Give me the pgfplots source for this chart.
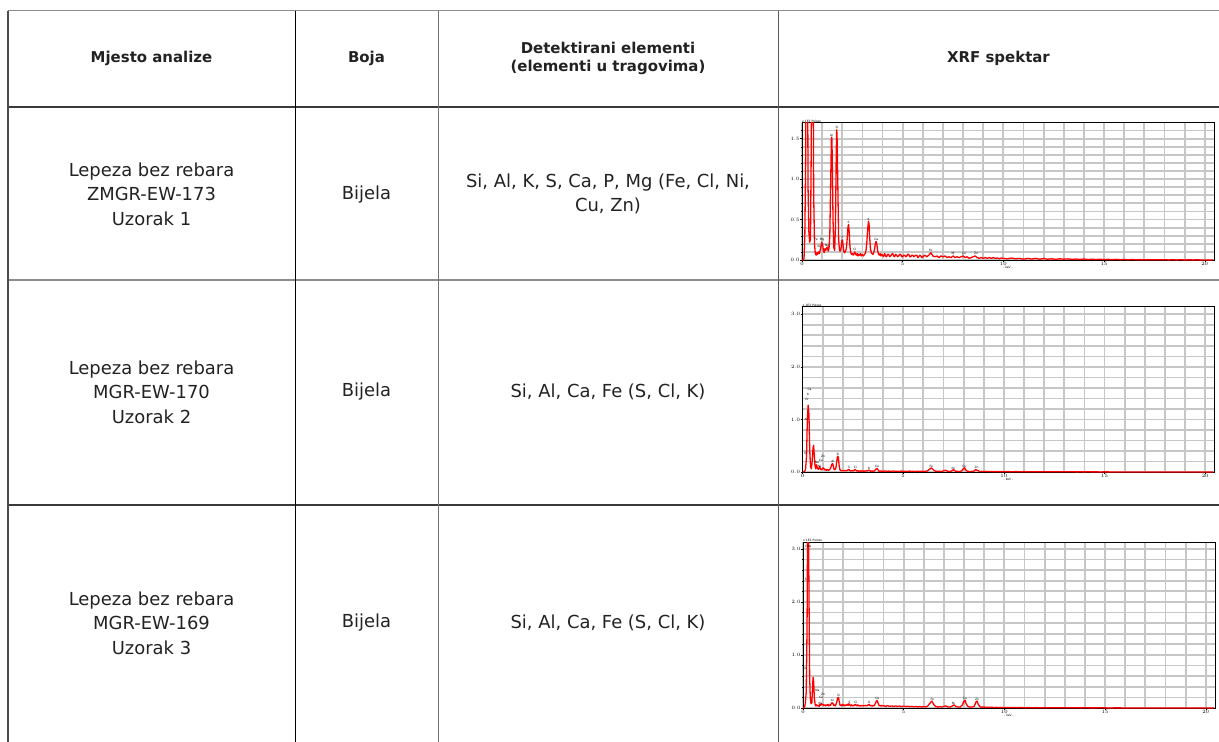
\documentclass[border=0pt]{standalone}
\usepackage{fontspec}
\setmainfont{DejaVu Sans}
\usepackage{pgfplots}
\usepackage{pgfplotstable}
\pgfplotsset{compat=1.18}
\definecolor{gridc}{HTML}{C6C6C6}
\definecolor{linegray}{HTML}{8C8C8C}
\definecolor{linedark}{HTML}{3A3A3A}
\definecolor{txt}{HTML}{222222}
\newcommand{\tinyf}{\fontsize{3}{3.5}\selectfont}
\tikzset{lbl/.style={font=\tinyf, inner sep=0bp, anchor=south}}
\pgfplotsset{
 xrf/.style={
  scale only axis, width=412bp,
  xmin=0, xmax=20.46, ymin=0,
  xtick={0,5,10,15,20},
  minor xtick={1,2,3,4,6,7,8,9,11,12,13,14,16,17,18,19},
  grid=both,
  major grid style={draw=gridc, line width=1.8bp},
  minor grid style={draw=gridc, line width=1.8bp},
  axis line style={black, line width=0.9bp},
  tick pos=left, tick align=outside,
  major tick length=1.6bp, minor tick length=1bp,
  tick style={black, line width=0.4bp},
  ticklabel style={font=\tinyf, inner sep=0.6bp},
  y tick label style={/pgf/number format/.cd, fixed, fixed zerofill, precision=1},
  xlabel={- keV -}, xlabel style={font=\tinyf, inner sep=0bp},
  clip mode=individual,
 },
 spec/.style={color=red, line width=1.3bp, mark=none, line join=round},
}
\pgfplotstableread{
x y
0.00 0.0
0.05 0.0
0.10 0.02
0.14 0.3
0.18 1.2
0.20 2.5
0.24 3.0
0.28 2.2
0.30 0.9
0.34 0.35
0.38 0.22
0.42 0.25
0.46 1.4
0.48 2.6
0.52 3.0
0.56 2.0
0.58 0.8
0.62 0.2
0.66 0.08
0.70 0.06
0.74 0.09
0.78 0.07
0.82 0.10
0.86 0.08
0.90 0.12
0.94 0.16
0.98 0.22
1.02 0.20
1.06 0.12
1.10 0.09
1.14 0.14
1.18 0.12
1.22 0.15
1.26 0.16
1.30 0.11
1.34 0.14
1.38 0.30
1.42 0.90
1.46 1.50
1.48 1.52
1.50 1.30
1.54 0.50
1.58 0.15
1.62 0.12
1.66 0.40
1.70 1.30
1.72 1.61
1.74 1.55
1.78 0.90
1.82 0.25
1.86 0.12
1.90 0.11
1.94 0.15
1.98 0.24
2.01 0.25
2.04 0.18
2.08 0.10
2.12 0.09
2.16 0.11
2.20 0.14
2.24 0.25
2.28 0.40
2.31 0.44
2.34 0.36
2.38 0.17
2.42 0.09
2.46 0.07
2.50 0.08
2.54 0.06
2.58 0.08
2.62 0.10
2.66 0.07
2.70 0.06
2.74 0.08
2.78 0.05
2.82 0.07
2.86 0.06
2.90 0.08
2.94 0.05
2.98 0.07
3.02 0.06
3.06 0.05
3.10 0.07
3.14 0.08
3.18 0.12
3.22 0.22
3.26 0.38
3.30 0.48
3.33 0.44
3.36 0.28
3.40 0.14
3.44 0.09
3.48 0.08
3.52 0.07
3.56 0.09
3.60 0.13
3.64 0.20
3.68 0.23
3.72 0.19
3.76 0.11
3.80 0.07
3.84 0.06
3.88 0.08
3.92 0.05
3.96 0.07
4.00 0.06
4.05 0.04
4.1 0.08
4.15 0.05
4.2 0.04
4.25 0.07
4.3 0.07
4.35 0.04
4.4 0.05
4.45 0.07
4.5 0.08
4.55 0.05
4.6 0.04
4.65 0.07
4.7 0.06
4.75 0.04
4.8 0.05
4.85 0.07
4.9 0.07
4.95 0.04
5.0 0.04
5.05 0.06
5.1 0.06
5.15 0.04
5.2 0.05
5.25 0.07
5.3 0.07
5.35 0.04
5.4 0.04
5.45 0.06
5.5 0.06
5.55 0.04
5.6 0.05
5.65 0.06
5.7 0.06
5.75 0.03
5.8 0.04
5.85 0.06
5.9 0.05
5.95 0.03
6.0 0.04
6.1 0.06
6.2 0.04
6.3 0.06
6.4 0.09
6.5 0.05
6.6 0.04
6.7 0.05
6.8 0.03
6.9 0.05
7.0 0.04
7.1 0.05
7.2 0.03
7.3 0.04
7.4 0.03
7.5 0.05
7.6 0.03
7.7 0.04
7.8 0.03
7.9 0.04
8.0 0.05
8.1 0.03
8.2 0.04
8.3 0.02
8.4 0.03
8.5 0.04
8.6 0.05
8.7 0.03
8.8 0.02
8.9 0.03
9.0 0.02
9.1 0.03
9.2 0.02
9.3 0.03
9.4 0.02
9.5 0.03
9.6 0.02
9.7 0.025
9.8 0.015
9.9 0.025
10.0 0.02
10.2 0.015
10.4 0.025
10.6 0.015
10.8 0.02
11.0 0.01
11.2 0.02
11.4 0.012
11.6 0.02
11.8 0.01
12.0 0.018
12.2 0.01
12.4 0.015
12.6 0.008
12.8 0.015
13.0 0.01
13.2 0.014
13.4 0.008
13.6 0.012
13.8 0.007
14.0 0.012
14.2 0.006
14.4 0.01
14.6 0.006
14.8 0.01
15.0 0.005
15.2 0.009
15.4 0.004
15.6 0.008
15.8 0.004
16.0 0.007
16.2 0.003
16.4 0.006
16.6 0.003
16.8 0.005
17.0 0.002
17.2 0.005
17.4 0.002
17.6 0.004
17.8 0.002
18.0 0.004
18.2 0.001
18.4 0.003
18.6 0.001
18.8 0.003
19.0 0.001
19.2 0.002
19.4 0.001
19.6 0.002
19.8 0.001
20.0 0.001
20.4 0.0
}\specA
\pgfplotstableread{
x y
0.00 0.0
0.10 0.01
0.15 0.05
0.20 0.30
0.24 1.00
0.28 1.27
0.32 1.10
0.36 0.40
0.40 0.10
0.44 0.06
0.48 0.20
0.52 0.45
0.55 0.51
0.58 0.35
0.62 0.12
0.66 0.06
0.70 0.14
0.74 0.08
0.78 0.05
0.82 0.07
0.86 0.10
0.90 0.05
0.94 0.04
0.98 0.06
1.02 0.08
1.06 0.07
1.10 0.04
1.14 0.05
1.18 0.03
1.22 0.05
1.26 0.04
1.30 0.03
1.34 0.05
1.38 0.06
1.42 0.10
1.46 0.15
1.50 0.16
1.54 0.09
1.58 0.04
1.62 0.05
1.66 0.08
1.70 0.20
1.74 0.30
1.78 0.28
1.82 0.12
1.86 0.04
1.90 0.03
1.94 0.02
1.98 0.03
2.02 0.02
2.06 0.03
2.10 0.02
2.14 0.03
2.18 0.02
2.22 0.03
2.26 0.04
2.30 0.05
2.34 0.03
2.38 0.02
2.42 0.025
2.46 0.02
2.50 0.03
2.54 0.02
2.58 0.04
2.62 0.05
2.66 0.03
2.70 0.02
2.74 0.025
2.78 0.015
2.82 0.02
2.86 0.015
2.90 0.025
2.94 0.015
2.98 0.02
3.02 0.015
3.06 0.02
3.10 0.015
3.14 0.02
3.18 0.025
3.22 0.02
3.26 0.03
3.30 0.035
3.34 0.025
3.38 0.015
3.42 0.02
3.46 0.015
3.50 0.02
3.54 0.015
3.58 0.025
3.62 0.04
3.66 0.06
3.70 0.07
3.74 0.05
3.78 0.02
3.82 0.015
3.86 0.02
3.90 0.015
3.94 0.02
3.98 0.012
4.1 0.02
4.2 0.012
4.3 0.018
4.4 0.01
4.5 0.02
4.6 0.012
4.7 0.016
4.8 0.01
4.9 0.018
5.0 0.012
5.1 0.016
5.2 0.01
5.3 0.018
5.4 0.012
5.5 0.015
5.6 0.01
5.7 0.016
5.8 0.012
5.9 0.015
6.0 0.01
6.1 0.015
6.2 0.02
6.3 0.05
6.4 0.08
6.5 0.04
6.6 0.015
6.7 0.012
6.8 0.015
6.9 0.01
7.0 0.02
7.1 0.035
7.2 0.015
7.3 0.01
7.4 0.02
7.5 0.045
7.6 0.015
7.7 0.012
7.8 0.01
7.9 0.02
8.0 0.07
8.05 0.08
8.1 0.04
8.2 0.012
8.3 0.01
8.4 0.012
8.5 0.015
8.6 0.045
8.7 0.03
8.8 0.01
8.9 0.012
9.0 0.008
9.1 0.012
9.2 0.008
9.3 0.01
9.4 0.007
9.5 0.01
9.6 0.006
9.7 0.01
9.8 0.006
9.9 0.009
10.0 0.006
10.2 0.009
10.4 0.005
10.6 0.008
10.8 0.005
11.0 0.008
11.2 0.004
11.4 0.007
11.6 0.004
11.8 0.006
12.0 0.004
12.2 0.006
12.4 0.003
12.6 0.006
12.8 0.003
13.0 0.005
13.2 0.003
13.4 0.005
13.6 0.002
13.8 0.004
14.0 0.002
14.2 0.004
14.4 0.002
14.6 0.003
14.8 0.001
15.0 0.003
15.4 0.001
15.8 0.002
16.2 0.0
16.6 0.001
17.0 0.0
20.4 0.0
}\specB
\pgfplotstableread{
x y
0.00 0.0
0.08 0.02
0.12 0.10
0.16 0.30
0.20 1.50
0.23 3.50
0.27 3.50
0.30 2.00
0.33 0.60
0.36 0.20
0.40 0.08
0.44 0.10
0.47 0.35
0.50 0.58
0.53 0.50
0.56 0.20
0.60 0.07
0.64 0.04
0.68 0.06
0.72 0.04
0.76 0.05
0.80 0.03
0.84 0.07
0.88 0.05
0.92 0.08
0.96 0.06
1.00 0.07
1.04 0.05
1.08 0.06
1.12 0.04
1.16 0.06
1.20 0.05
1.24 0.07
1.28 0.04
1.32 0.06
1.36 0.05
1.40 0.08
1.44 0.10
1.48 0.09
1.52 0.05
1.56 0.06
1.60 0.04
1.64 0.07
1.68 0.12
1.72 0.19
1.76 0.20
1.80 0.12
1.84 0.05
1.88 0.06
1.92 0.04
1.96 0.07
2.00 0.05
2.04 0.06
2.08 0.04
2.12 0.06
2.16 0.05
2.20 0.07
2.24 0.05
2.28 0.08
2.32 0.06
2.36 0.04
2.40 0.06
2.44 0.04
2.48 0.05
2.52 0.04
2.56 0.06
2.60 0.07
2.64 0.05
2.68 0.04
2.72 0.06
2.76 0.04
2.80 0.05
2.84 0.035
2.88 0.05
2.92 0.04
2.96 0.05
3.00 0.035
3.04 0.05
3.08 0.04
3.12 0.05
3.16 0.04
3.20 0.05
3.24 0.06
3.28 0.07
3.32 0.05
3.36 0.04
3.40 0.05
3.44 0.035
3.48 0.05
3.52 0.04
3.56 0.06
3.60 0.09
3.64 0.13
3.68 0.14
3.72 0.10
3.76 0.06
3.80 0.04
3.84 0.05
3.88 0.035
3.92 0.05
3.96 0.04
4.00 0.045
4.1 0.03
4.2 0.045
4.3 0.03
4.4 0.04
4.5 0.028
4.6 0.04
4.7 0.03
4.8 0.038
4.9 0.025
5.0 0.035
5.1 0.028
5.2 0.035
5.3 0.025
5.4 0.03
5.5 0.022
5.6 0.03
5.7 0.02
5.8 0.028
5.9 0.02
6.0 0.025
6.1 0.02
6.2 0.04
6.3 0.09
6.4 0.13
6.5 0.06
6.6 0.025
6.7 0.02
6.8 0.025
6.9 0.018
7.0 0.03
7.1 0.04
7.2 0.02
7.3 0.018
7.4 0.035
7.5 0.06
7.6 0.025
7.7 0.02
7.8 0.018
7.9 0.05
8.0 0.13
8.05 0.145
8.1 0.08
8.2 0.025
8.3 0.02
8.4 0.018
8.5 0.03
8.6 0.12
8.65 0.13
8.7 0.07
8.8 0.02
8.9 0.016
9.0 0.018
9.1 0.012
9.2 0.016
9.3 0.012
9.4 0.014
9.5 0.01
9.6 0.013
9.7 0.009
9.8 0.012
9.9 0.008
10.0 0.011
10.2 0.008
10.4 0.01
10.6 0.007
10.8 0.009
11.0 0.006
11.2 0.008
11.4 0.005
11.6 0.007
11.8 0.005
12.0 0.007
12.2 0.004
12.4 0.006
12.6 0.004
12.8 0.006
13.0 0.003
13.2 0.005
13.4 0.003
13.6 0.005
13.8 0.002
14.0 0.004
14.4 0.002
14.8 0.004
15.2 0.001
15.6 0.003
16.0 0.001
16.4 0.002
16.8 0.0
20.4 0.0
}\specC
\begin{document}
\begin{tikzpicture}
\path[use as bounding box] (0bp,0bp) rectangle (1219bp,-742bp);
% table rules
\draw[color=linegray, line width=1.4bp] (8bp,-10.5bp) -- (1219bp,-10.5bp);
\draw[color=linedark, line width=1.4bp] (8bp,-107bp) -- (1219bp,-107bp);
\draw[color=linegray, line width=1.6bp] (8bp,-280bp) -- (1219bp,-280bp);
\draw[color=linedark, line width=1.3bp] (8bp,-505bp) -- (1219bp,-505bp);
\draw[color=black!70, line width=1.4bp] (8bp,-10.5bp) -- (8bp,-742bp);
\draw[color=black, line width=0.8bp] (295bp,-10.5bp) -- (295bp,-742bp);
\draw[color=black!55, line width=0.8bp] (438bp,-10.5bp) -- (438bp,-742bp);
\draw[color=black!65, line width=0.8bp] (778bp,-10.5bp) -- (778bp,-742bp);
% header
\begin{scope}[every node/.style={font=\fontsize{15}{18}\selectfont\bfseries, align=center, text=txt}]
\node at (151.5bp,-58bp) {Mjesto analize};
\node at (366.5bp,-58bp) {Boja};
\node at (608bp,-58bp) {Detektirani elementi\\(elementi u tragovima)};
\node at (998.5bp,-58bp) {XRF spektar};
\end{scope}
\begin{scope}[every node/.style={font=\fontsize{18}{24.5}\selectfont, align=center, text=txt}]
\node at (151.5bp,-194bp) {Lepeza bez rebara\\ZMGR-EW-173\\Uzorak 1};
\node at (366.5bp,-195bp) {Bijela};
\node at (608bp,-194bp) {Si, Al, K, S, Ca, P, Mg (Fe, Cl, Ni,\\Cu, Zn)};
\node at (151.5bp,-392bp) {Lepeza bez rebara\\MGR-EW-170\\Uzorak 2};
\node at (366.5bp,-392bp) {Bijela};
\node at (608bp,-392bp) {Si, Al, Ca, Fe (S, Cl, K)};
\node at (151.5bp,-623bp) {Lepeza bez rebara\\MGR-EW-169\\Uzorak 3};
\node at (366.5bp,-623bp) {Bijela};
\node at (608bp,-623bp) {Si, Al, Ca, Fe (S, Cl, K)};
\end{scope}
% spectrum 1
\begin{axis}[xrf, at={(802bp,-260bp)}, anchor=south west, height=137.5bp,
  ymax=1.70, ytick={0,0.5,1.0,1.5},
  minor ytick={0.1,0.2,0.3,0.4,0.6,0.7,0.8,0.9,1.1,1.2,1.3,1.4,1.6}]
\addplot[spec] table {\specA};
\node[font=\tinyf, anchor=south west, inner sep=0bp] at (rel axis cs:0,1) {x 1E3 Pulses};
\node[lbl] at (axis cs:1.47,1.53) {Al};
\node[lbl] at (axis cs:1.74,1.62) {Si};
\node[lbl] at (axis cs:2.31,0.45) {S};
\node[lbl] at (axis cs:3.31,0.49) {K};
\node[lbl] at (axis cs:3.69,0.24) {Ca};
\node[lbl] at (axis cs:2.01,0.26) {P};
\node[lbl] at (axis cs:2.62,0.11) {Cl};
\node[lbl] at (axis cs:1.0,0.23) {Mg};
\node[lbl] at (axis cs:0.85,0.15) {Ni};
\node[lbl] at (axis cs:1.25,0.17) {Na};
\node[lbl] at (axis cs:0.7,0.24) {Fe};
\node[lbl] at (axis cs:6.4,0.10) {Fe};
\node[lbl] at (axis cs:7.5,0.06) {Ni};
\node[lbl] at (axis cs:8.05,0.06) {Cu};
\node[lbl] at (axis cs:8.65,0.06) {Zn};
\end{axis}
% spectrum 2
\begin{axis}[xrf, at={(802.5bp,-472bp)}, anchor=south west, height=165.3bp,
  ymax=3.146, ytick={0,1,2,3},
  minor ytick={0.2,0.4,0.6,0.8,1.2,1.4,1.6,1.8,2.2,2.4,2.6,2.8}]
\addplot[spec] table {\specB};
\node[font=\tinyf, anchor=south west, inner sep=0bp] at (rel axis cs:0,1) {x 1E3 Pulses};
\node[lbl] at (axis cs:0.35,1.55) {Ca};
\node[lbl] at (axis cs:0.28,1.45) {K};
\node[lbl] at (axis cs:0.22,1.36) {Cr};
\node[lbl] at (axis cs:0.18,0.98) {Al};
\node[lbl] at (axis cs:0.15,0.33) {O};
\node[lbl] at (axis cs:0.72,0.16) {Na};
\node[lbl] at (axis cs:0.92,0.20) {Cu};
\node[lbl] at (axis cs:1.02,0.28) {Zn};
\node[lbl] at (axis cs:0.85,0.08) {Ni};
\node[lbl] at (axis cs:1.50,0.17) {Al};
\node[lbl] at (axis cs:1.76,0.31) {Si};
\node[lbl] at (axis cs:2.31,0.06) {S};
\node[lbl] at (axis cs:2.62,0.06) {Cl};
\node[lbl] at (axis cs:3.31,0.04) {K};
\node[lbl] at (axis cs:3.70,0.08) {Ca};
\node[lbl] at (axis cs:6.40,0.09) {Fe};
\node[lbl] at (axis cs:7.48,0.05) {Ni};
\node[lbl] at (axis cs:8.04,0.09) {Cu};
\node[lbl] at (axis cs:8.64,0.06) {Zn};
\end{axis}
% spectrum 3
\begin{axis}[xrf, at={(803bp,-708bp)}, anchor=south west, height=166bp,
  ymax=3.13, ytick={0,1,2,3},
  minor ytick={0.2,0.4,0.6,0.8,1.2,1.4,1.6,1.8,2.2,2.4,2.6,2.8}]
\addplot[spec] table {\specC};
\node[font=\tinyf, anchor=south west, inner sep=0bp] at (rel axis cs:0,1) {x 1E3 Pulses};
\node[lbl] at (axis cs:0.26,3.02) {CNa};
\node[lbl] at (axis cs:0.14,2.4) {S};
\node[lbl] at (axis cs:0.10,0.72) {Cl};
\node[lbl] at (axis cs:0.72,0.30) {Na};
\node[lbl] at (axis cs:1.00,0.24) {Zn};
\node[lbl] at (axis cs:0.90,0.17) {Cu};
\node[lbl] at (axis cs:0.85,0.07) {Ni};
\node[lbl] at (axis cs:1.46,0.11) {Al};
\node[lbl] at (axis cs:1.76,0.21) {Si};
\node[lbl] at (axis cs:2.30,0.08) {S};
\node[lbl] at (axis cs:2.62,0.08) {Cl};
\node[lbl] at (axis cs:3.30,0.08) {K};
\node[lbl] at (axis cs:3.69,0.15) {Ca};
\node[lbl] at (axis cs:6.42,0.14) {Fe};
\node[lbl] at (axis cs:7.47,0.07) {Ni};
\node[lbl] at (axis cs:8.04,0.15) {Cu};
\node[lbl] at (axis cs:8.64,0.14) {Zn};
\end{axis}
\end{tikzpicture}
\end{document}
